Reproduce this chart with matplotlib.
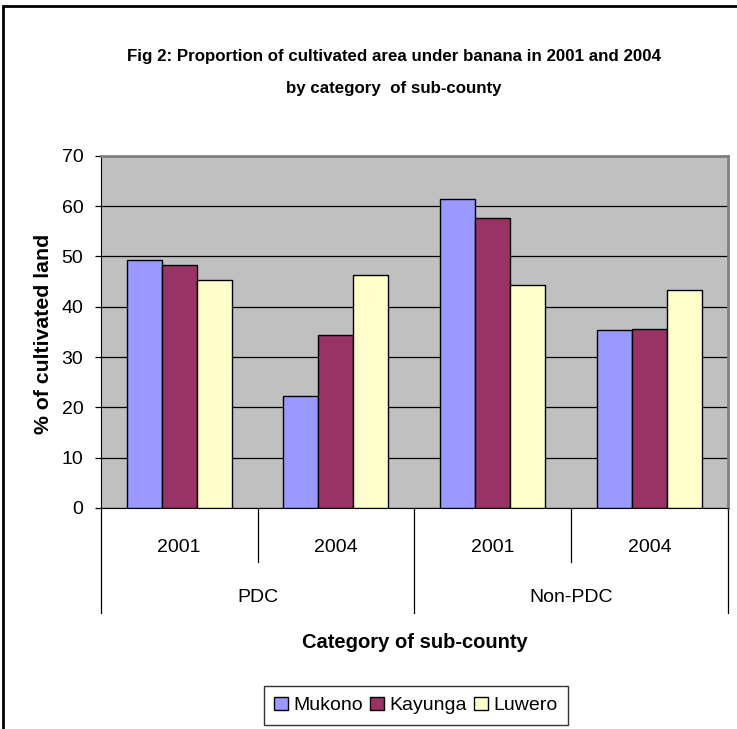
import numpy as np
import matplotlib
matplotlib.use("Agg")
import matplotlib.pyplot as plt
from matplotlib.patches import Rectangle

# Data
groups = ["PDC", "Non-PDC"]
years = ["2001", "2004", "2001", "2004"]
series_names = ["Mukono", "Kayunga", "Luwero"]
mukono = [49.3, 22.3, 61.3, 35.3]
kayunga = [48.3, 34.4, 57.6, 35.6]
luwero = [45.3, 46.3, 44.3, 43.3]
y_ticks = [0, 10, 20, 30, 40, 50, 60, 70]

colors = ["#9999FF", "#993366", "#FFFFCC"]

plt.rcParams["font.family"] = ["Liberation Sans", "DejaVu Sans"]

fig = plt.figure(figsize=(7.37, 7.29), dpi=100)
ax = fig.add_axes([0.1366, 0.3032, 0.8512, 0.4832])
ax.set_facecolor("#C0C0C0")

x = np.arange(len(years))
width = 0.223
for i, (vals, name) in enumerate(zip([mukono, kayunga, luwero], series_names)):
    ax.bar(x + (i - 1) * width, vals, width, color=colors[i], edgecolor="black",
           linewidth=1.0, label=name, zorder=3)

ax.set_xlim(-0.5, len(years) - 0.5)
ax.set_ylim(0, 70)
ax.set_yticks(y_ticks)
ax.set_yticklabels([str(t) for t in y_ticks], fontsize=14)
ax.yaxis.grid(True, color="black", linewidth=0.9, zorder=1)
ax.set_axisbelow(True)
ax.tick_params(axis="y", direction="out", length=4.5, width=0.9, pad=8)
ax.set_xticks([])

for side in ["top", "right"]:
    ax.spines[side].set_color("#808080")
    ax.spines[side].set_linewidth(2)
ax.spines["left"].set_color("black")
ax.spines["bottom"].set_color("black")

# category axis: year labels, group labels and separators
trans = ax.get_xaxis_transform()
for xi, lab in zip(x, years):
    ax.text(xi, -0.111, lab, transform=trans, ha="center", va="center", fontsize=14)
for gi, g in enumerate(groups):
    ax.text(gi * 2 + 0.5, -0.253, g, transform=trans, ha="center", va="center", fontsize=14)
for b in np.arange(-0.5, len(years), 1.0):
    outer = (b + 0.5) % 2 == 0
    ax.plot([b, b], [0, -0.298 if outer else -0.153], transform=trans, color="black",
            linewidth=0.9, clip_on=False)

ax.set_ylabel("% of cultivated land", fontsize=15.3, fontweight="bold")
ax.yaxis.set_label_coords(-0.076, 0.493)

title_kw = dict(ha="center", va="center", fontsize=12.2, fontweight="bold")
fig.text(394 / 737, 1 - 56 / 729,
         "Fig 2: Proportion of cultivated area under banana in 2001 and 2004", **title_kw)
fig.text(394 / 737, 1 - 89 / 729, "by category  of sub-county", **title_kw)
fig.text(415 / 737, 1 - 643 / 729, "Category of sub-county", ha="center", va="center",
         fontsize=14.5, fontweight="bold")

leg = fig.legend(loc="center", bbox_to_anchor=(416 / 737, 1 - 705.5 / 729), ncol=3,
                 fontsize=14, frameon=True, fancybox=False, edgecolor="black",
                 handlelength=0.7, handleheight=0.7, handletextpad=0.3,
                 columnspacing=0.35, borderpad=0.55)
leg.get_frame().set_linewidth(1.0)

# outer chart border (left and top visible)
fig.patches.append(Rectangle((2.5 / 737, -0.01), 1.1, 1 - 5.5 / 729 + 0.01,
                             transform=fig.transFigure, fill=False,
                             edgecolor="black", linewidth=2))

fig.savefig("out.png", dpi=100)
